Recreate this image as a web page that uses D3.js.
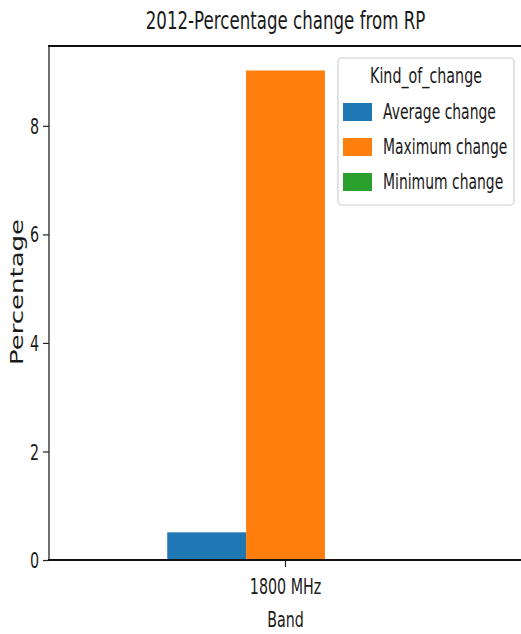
<!DOCTYPE html>
<html>
<head>
<meta charset="utf-8">
<script src="https://cdn.jsdelivr.net/npm/d3@7"></script>
<style>
html,body{margin:0;padding:0;background:#fff;}
svg{display:block;}
text{font-family:"DejaVu Sans",sans-serif;fill:#1a1a1a;}
</style>
</head>
<body>
<svg id="chart" width="521" height="634"></svg>
<script>
// ---- data ----
const categories = ["1800 MHz"];
const seriesNames = ["Average change", "Maximum change", "Minimum change"];
const averageChange = [0.51];
const maximumChange = [9.02];
const minimumChange = [0.0];
const yTicks = [0, 2, 4, 6, 8];
const colors = ["#1f77b4", "#ff7f0e", "#2ca02c"];
const titleText = "2012-Percentage change from RP";
const xLabel = "Band";
const yLabel = "Percentage";
const legendTitle = "Kind_of_change";

(function () {
const seriesValues = [averageChange, maximumChange, minimumChange];
const SX = 0.68; // horizontal text squeeze

const svg = d3.select("#chart");
const pLeft = 49, pRight = 522, pTop = 46, pBottom = 560;

const x0 = d3.scaleBand().domain(categories).range([pLeft, pRight]).paddingInner(0).paddingOuter(0.5);
const x1 = d3.scaleBand().domain(seriesNames).range([0, x0.bandwidth()]).padding(0);
const yMax = d3.max(seriesValues.flat()) * 1.05;
const y = d3.scaleLinear().domain([0, yMax]).range([pBottom, pTop]);

// bars
categories.forEach((c, ci) => {
  const g = svg.append("g").attr("transform", `translate(${x0(c)},0)`);
  g.selectAll("rect").data(seriesNames.map((s, si) => ({s, v: seriesValues[si][ci], color: colors[si]})))
    .join("rect")
    .attr("x", d => x1(d.s))
    .attr("width", x1.bandwidth())
    .attr("y", d => y(d.v))
    .attr("height", d => y(0) - y(d.v))
    .attr("fill", d => d.color);
});

// y axis
const yAxis = svg.append("g").attr("transform", `translate(${pLeft},0)`)
  .call(d3.axisLeft(y).tickValues(yTicks).tickSize(6).tickPadding(4).tickFormat(d3.format("d")));
yAxis.select(".domain").remove();
yAxis.selectAll(".tick line").attr("stroke", "#222").attr("stroke-width", 1.2);
yAxis.selectAll(".tick text")
  .attr("font-size", 21)
  .attr("font-family", "DejaVu Sans")
  .attr("fill", "#1a1a1a")
  .attr("x", -10 / SX)
  .attr("dy", "0.36em")
  .attr("transform", `scale(${SX},1)`);

// x axis
const xAxis = svg.append("g").attr("transform", `translate(0,${pBottom})`)
  .call(d3.axisBottom(x0).tickSize(7).tickPadding(12));
xAxis.select(".domain").remove();
xAxis.selectAll(".tick line").attr("stroke", "#222").attr("stroke-width", 1.2);
xAxis.selectAll(".tick text")
  .attr("font-size", 21)
  .attr("font-family", "DejaVu Sans")
  .attr("fill", "#1a1a1a")
  .attr("transform", `scale(${SX},1)`);

// spines
svg.append("line").attr("x1", pLeft).attr("x2", pLeft).attr("y1", pTop).attr("y2", pBottom)
  .attr("stroke", "#333").attr("stroke-width", 1.4);
svg.append("line").attr("x1", pRight).attr("x2", pRight).attr("y1", pTop).attr("y2", pBottom)
  .attr("stroke", "#333").attr("stroke-width", 1.4);
svg.append("line").attr("x1", pLeft - 1).attr("x2", pRight + 1).attr("y1", pTop).attr("y2", pTop)
  .attr("stroke", "#111").attr("stroke-width", 2);
svg.append("line").attr("x1", pLeft - 1).attr("x2", pRight + 1).attr("y1", pBottom).attr("y2", pBottom)
  .attr("stroke", "#111").attr("stroke-width", 2);

// title
svg.append("text")
  .attr("transform", `translate(${(pLeft + pRight) / 2},29) scale(${SX},1)`)
  .attr("text-anchor", "middle").attr("font-size", 24.5).text(titleText);

// x label
svg.append("text")
  .attr("transform", `translate(${(pLeft + pRight) / 2},627) scale(${SX},1)`)
  .attr("text-anchor", "middle").attr("font-size", 21).text(xLabel);

// y label
svg.append("text")
  .attr("transform", `translate(23,292) scale(${SX},1) rotate(-90)`)
  .attr("text-anchor", "middle").attr("font-size", 26).text(yLabel);

// legend
const lg = svg.append("g");
lg.append("rect").attr("x", 338).attr("y", 58).attr("width", 176).attr("height", 147)
  .attr("rx", 4).attr("ry", 4).attr("fill", "#fff").attr("fill-opacity", 0.8)
  .attr("stroke", "#d0d0d0").attr("stroke-width", 1.2);
lg.append("text")
  .attr("transform", `translate(426,83) scale(${SX},1)`)
  .attr("text-anchor", "middle").attr("font-size", 21).text(legendTitle);
const rows = lg.selectAll("g.row").data(seriesNames).join("g").attr("class", "row")
  .attr("transform", (d, i) => `translate(0,${103 + i * 35})`);
rows.append("rect").attr("x", 343).attr("y", 0).attr("width", 29).attr("height", 18)
  .attr("fill", (d, i) => colors[i]);
rows.append("text")
  .attr("transform", `translate(383,16) scale(${SX},1)`)
  .attr("font-size", 20.5).text(d => d);
})();
</script>
</body>
</html>
